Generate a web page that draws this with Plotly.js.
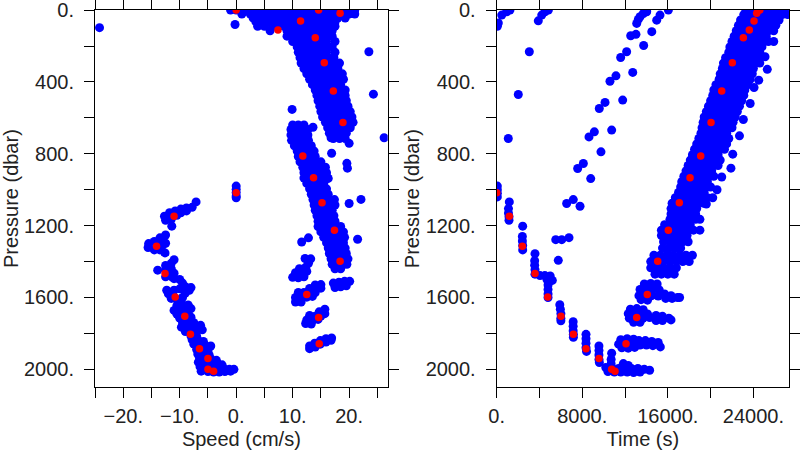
<!DOCTYPE html>
<html>
<head>
<meta charset="utf-8">
<script src="https://cdn.plot.ly/plotly-3.0.1.min.js"></script>
<style>html,body{margin:0;padding:0;background:#fff;}#chart{width:800px;height:450px;}</style>
</head>
<body>
<div id="chart"></div>
<script>
// ---------- axis ticks ----------
const speedTickVals = [-25, -20, -15, -10, -5, 0, 5, 10, 15, 20, 25];
const speedTickText = ['', '\u221220.', '', '\u221210.', '', '0.', '', '10.', '', '20.', ''];
const timeTickVals = [0, 4000, 8000, 12000, 16000, 20000, 24000];
const timeTickText = ['0.', '', '8000.', '', '16000.', '', '24000.'];
const presTickVals = [0, 200, 400, 600, 800, 1000, 1200, 1400, 1600, 1800, 2000];
const presTickText = ['0.', '', '400.', '', '800.', '', '1200.', '', '1600.', '', '2000.'];

// ---------- highlighted (red) samples: pressure, speed, time ----------
const redPressure = [0, 0, 17, 61, 111, 154, 293, 451, 626, 813, 934, 1072, 1017, 1148, 1226, 1315, 1398, 1467, 1597, 1584, 1712, 1705, 1805, 1857, 1885, 1940, 2000, 2011];
const redSpeed    = [0, 14.6, 18.4, 11.4, 7.4, 14.0, 15.6, 17.2, 18.9, 11.8, 13.7, 15.2, 0, -11.0, 17.4, -14.1, 18.4, -12.6, -10.8, 12.5, 14.6, -9.1, -8.1, 14.7, -6.5, -5.0, -5.0, -4.0];
const redTime     = [24450, 24600, 24313, 24060, 23620, 23060, 22030, 21040, 20040, 19075, 18075, 17075, 0, 1180, 16050, 2400, 15055, 3580, 4770, 14080, 13090, 6010, 7165, 12090, 8350, 9565, 10750, 11060];

// ---------- left panel (speed vs pressure): dense rows ----------
const speedRowPressure = [0, 22, 44, 66, 90, 115, 145, 175, 205, 235, 265, 295, 325, 355, 385, 415, 445, 475, 505, 535, 565, 595, 625, 655, 685, 715,
  640, 665, 695, 725, 755, 785, 815, 845, 875, 905, 935, 965, 995, 1025, 1055, 1085, 1115, 1145, 1175, 1205, 1235, 1265, 1295, 1325, 1355, 1385, 1415, 1440];
const speedRowValues = [
  [-1,0,1,2,3,4,5,6,7,8,9,10,11,12,13,14,15,16,17,18,19,20,21],
  [1,2.5,4,5,6,7,8,9,10,11,12,13,14,15,16,17,18,19,20,21],
  [3,4,5,6,7,8,9,10,11,12,13,14,15,16,17,18,19.3],
  [3.5,4.5,5.5,6.5,7.5,8.5,9.5,10.5,11.5,12.5,13.5,14.5,15.5,16.5,17.5],
  [3.8,5,6.5,7.5,8.5,9.5,10.5,11.5,12.5,13.5,14.5,15.5,16.5,17.5],
  [6,9,10,11,12,13,14,15,16,17],
  [9,10,11,12,13,14,15,16,17],
  [10,11,12,13,14,15,16,17.5],
  [10.8,12,13,14,15,16,17],
  [11,12,13,14,15,16,17.5],
  [11.3,12.3,13.3,14.3,15.3,16.3,17.3],
  [11.5,12.5,13.5,14.5,15.5,16.5,17.5,18.3],
  [12,13,14,15,16,17,18],
  [12.5,13.5,14.5,15.5,16.5,17.5,18.8],
  [13,14,15,16,17,18,19],
  [13.5,14.5,15.5,16.5,17.5,18.5],
  [14,15,16,17,18,19.3],
  [14.3,15.3,16.3,17.3,18.3,19.3],
  [14.5,15.5,16.5,17.5,18.5,19.5],
  [14.8,15.8,16.8,17.8,18.8,19.8],
  [15,16,17,18,19,20.2],
  [15.3,16.3,17.3,18.3,19.3,20.5],
  [15.8,16.8,17.8,18.8,19.8,20.7],
  [16.2,17.2,18.2,19.2,20.2],
  [16.5,17.5,18.5,19.5],
  [17.2,18.3,19.3],
  [10,11,12],
  [9.7,10.7,11.7,12.7],
  [9.7,10.7,11.7,12.7],
  [9.8,10.8,11.8,12.8],
  [10.3,11.3,12.3,13.3],
  [10.8,11.8,12.8,13.8],
  [11,12,13,14],
  [11.3,12.3,13.3,14.3,15],
  [11.8,12.8,13.8,14.8,15.8],
  [12,13,14,15,16],
  [12,13,14,15,16.2],
  [12.5,13.5,14.5,15.5],
  [13,14,15,16],
  [13.3,14.3,15.3,16.3],
  [13.6,14.6,15.6,16.6,17.4],
  [13.8,14.8,15.8,16.8,17.5],
  [14,15,16,17],
  [14.3,15.3,16.3,17.3],
  [14.5,15.5,16.5,17.5],
  [14.5,15.5,16.5,17.5,18.5],
  [15,16,17,18,19],
  [15.5,16.5,17.5,18.5,19.2],
  [16,17,18,19],
  [16.3,17.3,18.3,19.3],
  [16.5,17.5,18.5,19.5],
  [16.8,17.8,18.8,19.8],
  [17,18,19,19.6],
  [17.5,18.5]
];
// ---------- left panel: clusters and isolated samples [speed, pressure] ----------
const speedPoints = [
  [-24.2,98],[-0.2,80],[23.5,232],[24.3,468],[9.9,553],[26.2,711],[20,742],[19.6,853],[19.7,880],[13.6,652],[16.9,797],[16.8,711],
  [20,1077],[22.1,1054],[12.8,1268],[11.6,1291],[15.2,1203],[21.5,1276],[16.3,937],[-7.1,1068],[-11.4,1203],[-12.6,1352],[-13.9,1448],
  [0,980],[0,998],[0,1016],[0,1035],[0,1045],
  [13.2,1385],[12.2,1383],[12.8,1410],[12.3,1432],[11.2,1440],[10.5,1462],[11.5,1460],[12.5,1455],[10,1488],[11,1490],[12,1485],
  [17.2,1520],[18.2,1515],[19.2,1510],[20.1,1510],[17.5,1545],[18.5,1540],[19.5,1535],
  [14,1530],[15,1528],[13,1550],[14,1552],[15,1548],[11,1572],[12,1572],[13,1575],[14,1572],[10.5,1600],[11.5,1600],[12.5,1598],[13.5,1594],[10.5,1625],[11.5,1625],
  [15.7,1665],[14.7,1680],[15.7,1690],[13,1700],[14,1705],[15,1703],[12.5,1725],[13.5,1728],[14.5,1722],[12.3,1745],[13.3,1748],
  [16.9,1825],[15.9,1830],[14.9,1840],[15.9,1848],[13.9,1855],[14.9,1860],[13,1870],[14,1876],[13,1885],[16.8,1838],
  [-7.8,1098],[-8.8,1102],[-9.8,1108],[-10.8,1118],[-11.8,1128],[-12.7,1148],[-12.5,1170],[-11.5,1165],[-10.5,1142],[-11.5,1140],[-9.8,1128],[-8.8,1118],
  [-15.5,1300],[-15.6,1322],[-14.5,1288],[-13.5,1268],[-12.5,1252],[-13,1282],[-14,1310],[-13,1308],[-14.5,1335],[-13.5,1335],[-12.5,1298],
  [-11,1390],[-11.5,1410],[-12.5,1422],[-12.5,1445],[-11.5,1440],[-12,1470],[-11,1465],[-12.5,1485],[-11.3,1487],
  [-11,1495],[-10,1500],[-9.5,1520],[-9,1540],[-8,1545],[-10,1552],[-11,1560],[-12,1580],[-11.5,1605],[-10.5,1612],[-9.5,1600],[-9,1575],[-8.3,1560],[-12.3,1560],
  [-10.5,1645],[-9.5,1640],[-8.5,1642],[-8,1662],[-9,1665],[-10,1665],[-11,1672],[-10.5,1692],[-9.5,1690],[-8.5,1690],[-10,1715],[-9,1715],[-8,1710],
  [-9.5,1740],[-8.5,1735],[-7.5,1740],[-6.3,1755],[-7.5,1765],[-8.5,1765],[-9.7,1765],[-9,1790],[-8,1790],[-7,1785],[-6,1780],[-8,1815],[-7,1815],
  [-7.8,1835],[-6.8,1835],[-5.8,1845],[-7.5,1860],[-6.5,1860],[-5.5,1865],[-4.5,1870],[-7,1890],[-6,1890],[-5,1895],[-6.8,1915],[-5.8,1915],[-4.8,1918],
  [-6.5,1935],[-5.5,1935],[-4.5,1940],[-3.5,1950],[-6.7,1960],[-5.5,1960],[-4.5,1965],[-3.5,1970],[-2.5,1975],[-6.4,1985],[-5.2,1985],[-4.2,1990],[-3.2,1990],
  [-2.2,1995],[-1.2,2000],[-0.4,2000],[-6.2,2010],[-5,2012],[-4,2015],[-3,2015],[-2,2012],[-1,2010]
];

// ---------- right panel (time vs pressure): dense rows ----------
const timeRowPressure = [0, 25, 55, 85, 115, 145, 175, 205, 235, 265, 295, 325, 355, 385, 415, 445, 475, 505, 535, 565, 595, 625, 655, 685, 715, 745, 775, 805, 835, 865, 895, 925, 955, 985, 1015, 1045, 1075, 1105, 1135, 1165, 1195, 1225, 1255, 1290, 1325, 1365, 1400, 1435, 1470];
const timeRowValues = [
  [23300,23900,24500,25100,25700,26300,26900],
  [23100,23700,24300,24900,25500,26100,26700,27200],
  [22800,23400,24000,24600,25200,25800,26400],
  [22600,23200,23800,24400,25000,25600,26100],
  [22400,23000,23600,24200,24800,25400,25900],
  [22200,22800,23400,24000,24600,25200],
  [22000,22600,23200,23800,24400,25000,25400],
  [21800,22400,23000,23600,24200,24800],
  [21700,22300,22900,23500,24100,24600],
  [21400,22000,22600,23200,23800,24400],
  [21200,21800,22400,23000,23600,24200,24600],
  [21100,21700,22300,22900,23500,24000],
  [20900,21500,22100,22700,23300,23900],
  [20800,21400,22000,22600,23200,23700],
  [20500,21100,21700,22300,22900,23500],
  [20300,20900,21500,22100,22700,23200],
  [20200,20800,21400,22000,22600,23100],
  [20000,20600,21200,21800,22400,22900],
  [19800,20400,21000,21600,22200,22700],
  [19600,20200,20800,21400,22000,22500],
  [19400,20000,20600,21200,21800,22300],
  [19300,19900,20500,21100,21700,22100],
  [19200,19800,20400,21000,21600,22000],
  [19100,19700,20300,20900,21500],
  [18900,19500,20100,20700,21300,21700],
  [18700,19300,19900,20500,21100,21500],
  [18500,19100,19700,20300,20900,21300],
  [18300,18900,19500,20100,20700],
  [18100,18700,19300,19900,20500,20900],
  [17900,18500,19100,19700,20300,20700],
  [17700,18300,18900,19500,20100],
  [17500,18100,18700,19300,19900,20300],
  [17300,17900,18500,19100,19700],
  [17200,17800,18400,19000,19600,20000],
  [17000,17600,18200,18800,19400],
  [16700,17300,17900,18500,19100,19700,20200],
  [16400,17000,17600,18200,18800,19300],
  [16300,16900,17500,18100,18700],
  [16300,16900,17500,18100,18600],
  [16200,16800,17400,18000,18600,19000],
  [15700,16300,16900,17500,18100],
  [15400,16000,16600,17200,17800,18400,19000],
  [15400,16000,16600,17200,17800],
  [15600,16200,16800,17400,17900],
  [15500,16100,16700,17200],
  [14700,15300,15900,16500,17100,17700,18300],
  [14400,15000,15600,16200,16800,17400,18000],
  [14400,15000,15600,16200,16800],
  [14800,15400,16000,16600]
];
// ---------- right panel: clusters and isolated samples [time, pressure] ----------
const timePoints = [
  [13800,1525],[14400,1522],[15000,1525],[13400,1555],[14000,1555],[14600,1555],[15200,1558],[13300,1590],[13900,1592],[14500,1590],[15100,1592],[13500,1612],[14100,1615],
  [15700,1580],[16300,1590],[16900,1600],[15800,1605],[16400,1605],[17100,1600],
  [12500,1665],[13100,1662],[13700,1668],[12300,1690],[12900,1690],[13500,1690],[14100,1692],[12400,1715],[13700,1715],[14300,1712],[12800,1738],[13400,1738],
  [14900,1700],[15500,1705],[16100,1715],[14900,1728],[15500,1728],[16300,1725],
  [11600,1835],[12200,1830],[12800,1832],[11400,1860],[12700,1855],[11700,1880],[12300,1882],
  [13300,1840],[13900,1840],[14500,1845],[15100,1850],[13400,1865],[14000,1865],[14600,1868],[15300,1875],[12900,1878],
  [10750,1910],[10700,1945],[10700,1970],[10200,1990],[10800,1995],[11400,1995],[12000,1990],[12600,1995],[13200,1995],[13800,2000],[14300,2005],
  [10400,2012],[11000,2015],[11600,2015],[12200,2015],[12800,2018],[13400,2015],[11840,1968],[12300,1978],
  [60,980],[60,1000],[60,1020],[60,1040],
  [1180,1068],[1100,1105],[1100,1130],[1150,1150],[1150,1170],
  [2430,1203],[2400,1260],[2400,1285],[2430,1310],[2430,1335],
  [3580,1356],[3550,1395],[3550,1420],[3580,1445],[3580,1470],
  [4050,1478],[4500,1478],[5000,1480],[4700,1500],[5200,1505],[4800,1530],[4800,1555],[4800,1580],[4800,1600],
  [5900,1640],[5950,1665],[6000,1690],[6000,1715],[6000,1730],
  [7150,1735],[7150,1760],[7150,1785],[7170,1805],[7170,1822],
  [8350,1805],[8350,1830],[8350,1855],[8350,1880],[8400,1900],
  [9560,1870],[9560,1895],[9560,1920],[9560,1945],[9600,1962],
  [5520,1278],[6080,1278],[6760,1267],[5760,1393],[6540,1077],[7160,1055],[7790,1092],[7570,882],[8100,854],[8790,938],[8630,706],[9130,678],
  [9750,789],[10750,668],[9590,548],[10130,514],[11780,501],[10590,396],[11150,366],[12720,347],[11590,264],[12150,232],[12530,143],[13020,135],
  [13090,74],[13240,52],[13740,197],[14500,120],[14960,56],[13400,37],[13710,19],[15270,28],[16050,0],[14025,9],
  [470,28],[935,9],[1240,0],[60,90],[150,72],[3050,232],[2020,470],[1085,715],[3890,60],[4210,28],[4520,9],[4830,0],
  [25090,260],[24060,431],[23060,609],[22070,802],[21040,929],[25900,175],[25300,330],[24500,390],[23700,520],[22700,700],[21900,880],[20600,1000],[19600,1080]
];

// ---------- build plotting arrays ----------
function collect(rowP, rowV, pts) {
  const xs = [], ys = [];
  rowP.forEach((p, i) => rowV[i].forEach(v => { xs.push(v); ys.push(p); }));
  pts.forEach(pt => { xs.push(pt[0]); ys.push(pt[1]); });
  return {xs, ys};
}
const leftBlue = collect(speedRowPressure, speedRowValues, speedPoints);
const rightBlue = collect(timeRowPressure, timeRowValues, timePoints);

const BLUE = '#0000ff', RED = '#ff0000';
const blueMarker = {color: BLUE, size: 9, line: {width: 0}};
const redMarker = {color: RED, size: 7.5, line: {width: 0}};

const traces = [
  {type: 'scatter', mode: 'markers', x: leftBlue.xs, y: leftBlue.ys, xaxis: 'x', yaxis: 'y', marker: blueMarker, hoverinfo: 'x+y'},
  {type: 'scatter', mode: 'markers', x: redSpeed, y: redPressure, xaxis: 'x', yaxis: 'y', marker: redMarker, hoverinfo: 'x+y'},
  {type: 'scatter', mode: 'markers', x: rightBlue.xs, y: rightBlue.ys, xaxis: 'x2', yaxis: 'y2', marker: blueMarker, hoverinfo: 'x+y'},
  {type: 'scatter', mode: 'markers', x: redTime, y: redPressure, xaxis: 'x2', yaxis: 'y2', marker: redMarker, hoverinfo: 'x+y'}
];

const FONT = {family: '"Liberation Sans", Arial, Helvetica, sans-serif', size: 20, color: '#222'};
const axisCommon = {
  showgrid: false, zeroline: false, showline: true, linecolor: '#000', linewidth: 1,
  mirror: 'allticks', ticks: 'outside', ticklen: 10, tickwidth: 1, tickcolor: '#000',
  tickfont: FONT, tickmode: 'array', automargin: false, fixedrange: true,
  ticklabeloverflow: 'allow'
};
const yDomain = [1 - 387.3 / 450, 1 - 10 / 450];

const layout = {
  width: 800, height: 450,
  margin: {l: 0, r: 0, t: 0, b: 0},
  paper_bgcolor: '#fff', plot_bgcolor: '#fff',
  showlegend: false,
  font: FONT,
  xaxis: Object.assign({}, axisCommon, {
    domain: [95 / 800, 387.7 / 800], range: [-25, 26.83], anchor: 'y',
    tickvals: speedTickVals, ticktext: speedTickText, ticklabelstandoff: 1,
    title: {text: 'Speed (cm/s)', font: FONT, standoff: 5}
  }),
  yaxis: Object.assign({}, axisCommon, {
    domain: yDomain, range: [2100, -0.5], anchor: 'x',
    tickvals: presTickVals, ticktext: presTickText, ticklabelstandoff: 6,
    title: {text: 'Pressure (dbar)', font: FONT, standoff: 0}
  }),
  xaxis2: Object.assign({}, axisCommon, {
    domain: [496.7 / 800, 789 / 800], range: [0, 27330], anchor: 'y2',
    tickvals: timeTickVals, ticktext: timeTickText, ticklabelstandoff: 1,
    title: {text: 'Time (s)', font: FONT, standoff: 5}
  }),
  yaxis2: Object.assign({}, axisCommon, {
    domain: yDomain, range: [2100, -0.5], anchor: 'x2',
    tickvals: presTickVals, ticktext: presTickText, ticklabelstandoff: 6,
    title: {text: 'Pressure (dbar)', font: FONT, standoff: 0}
  })
};

Plotly.newPlot('chart', traces, layout, {displayModeBar: false, staticPlot: true});
</script>
</body>
</html>
